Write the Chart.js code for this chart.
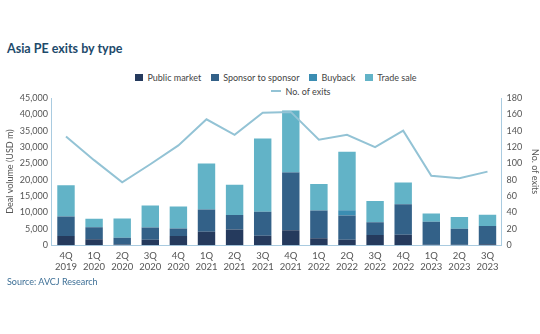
<!DOCTYPE html>
<html>
<head>
<meta charset="utf-8">
<script src="https://cdn.jsdelivr.net/npm/chart.js@4.4.0/dist/chart.umd.min.js"></script>
<style>
  body { margin:0; background:#fff; font-family: Lato, "Open Sans", sans-serif; }
  #wrap { position:relative; width:540px; height:334px; }
  #title { position:absolute; left:7px; top:41px; font-size:12.5px; font-weight:bold; color:#1d4a6b; }
  #legend { position:absolute; left:6px; top:72px; width:540px; font-size:9px; color:#444; text-align:center; }
  #legend .row { height:14px; }
  #legend span.item { display:inline-block; margin:0 5px; }
  #legend i.box { display:inline-block; width:8px; height:7px; margin-right:4px; vertical-align:0px; }
  #legend i.ln { display:inline-block; width:10px; height:2px; margin-right:4px; vertical-align:3px; }
  #source { position:absolute; left:7px; top:276px; font-size:9px; color:#3d6f96; }
  #cv { position:absolute; left:0; top:86px; }
</style>
</head>
<body>
<div id="wrap">
  <div id="title">Asia PE exits by type</div>
  <div id="legend"></div>
  <canvas id="cv" width="540" height="192"></canvas>
  <div id="source">Source: AVCJ Research</div>
</div>
<script>
// values (USD m, stacked) and exit counts
const quarters = [['4Q','2019'],['1Q','2020'],['2Q','2020'],['3Q','2020'],['4Q','2020'],['1Q','2021'],['2Q','2021'],['3Q','2021'],['4Q','2021'],['1Q','2022'],['2Q','2022'],['3Q','2022'],['4Q','2022'],['1Q','2023'],['2Q','2023'],['3Q','2023']];
const publicMarket = [2800,1800,200,1700,2800,4100,4800,2900,4600,2100,1700,3100,3200,100,100,300];
const sponsorToSponsor = [6000,3700,2100,3700,2300,6800,4400,7300,17600,8500,7400,3900,9300,7100,4900,5600];
const buyback = [0,0,0,0,0,0,0,0,200,0,1600,0,0,0,0,0];
const tradeSale = [9500,2600,5900,6700,6700,14100,9300,22400,18800,8100,17900,6500,6700,2500,3600,3400];
const noOfExits = [133,104,77,99,122,154,135,162,163,129,135,120,140,85,82,90];

const colors = { pub:'#253a5d', spon:'#336188', buy:'#3b8db2', trade:'#62b3c7', line:'#93c3d5' };

const tickFont = { family:'Lato, "Open Sans", sans-serif', size:9.5 };
const yFont = { family:tickFont.family, size:9 };
const datasets = [
  { label:'No. of exits', type:'line', data:noOfExits, yAxisID:'y2', borderColor:colors.line, borderWidth:2, pointRadius:0, tension:0, order:0 },
  { label:'Public market', data:publicMarket, backgroundColor:colors.pub, stack:'s', order:1 },
  { label:'Sponsor to sponsor', data:sponsorToSponsor, backgroundColor:colors.spon, stack:'s', order:1 },
  { label:'Buyback', data:buyback, backgroundColor:colors.buy, stack:'s', order:1 },
  { label:'Trade sale', data:tradeSale, backgroundColor:colors.trade, stack:'s', order:1 }
];

// html legend: bars on first row, line on second
const lg = document.getElementById('legend');
let r1 = '<div class="row">', r2 = '<div class="row" style="padding-left:50px">';
datasets.forEach(d => {
  if (d.type === 'line') r2 += '<span class="item"><i class="ln" style="background:'+d.borderColor+'"></i>'+d.label+'</span>';
  else r1 += '<span class="item"><i class="box" style="background:'+d.backgroundColor+'"></i>'+d.label+'</span>';
});
lg.innerHTML = r1 + '</div>' + r2 + '</div>';

new Chart(document.getElementById('cv'), {
  type:'bar',
  data:{ labels:quarters, datasets },
  options:{
    responsive:false, animation:false,
    layout:{ padding:{ left:5, right:0, top:12, bottom:0 } },
    plugins:{ legend:{ display:false }, tooltip:{ enabled:false } },
    datasets:{ bar:{ categoryPercentage:1, barPercentage:0.62 } },
    scales:{
      x:{ stacked:true, grid:{ display:false, drawTicks:false }, border:{ color:'#a9cbe0' },
          ticks:{ color:'#555', font:tickFont, padding:5, maxRotation:0 } },
      y:{ stacked:true, min:0, max:45000, grid:{ display:false, drawTicks:false }, border:{ color:'#a9cbe0' },
          ticks:{ stepSize:5000, color:'#555', font:yFont, padding:4, callback:v => v.toLocaleString('en-US') },
          title:{ display:true, text:'Deal volume (USD m)', color:'#555', font:yFont, padding:{ top:0, bottom:0 } } },
      y2:{ position:'right', min:0, max:180, grid:{ display:false, drawTicks:false }, border:{ color:'#a9cbe0' },
          ticks:{ stepSize:20, color:'#555', font:yFont, padding:5 },
          title:{ display:true, text:'No. of exits', color:'#555', font:yFont, padding:{ top:0, bottom:2 } } }
    }
  }
});
</script>
</body>
</html>
